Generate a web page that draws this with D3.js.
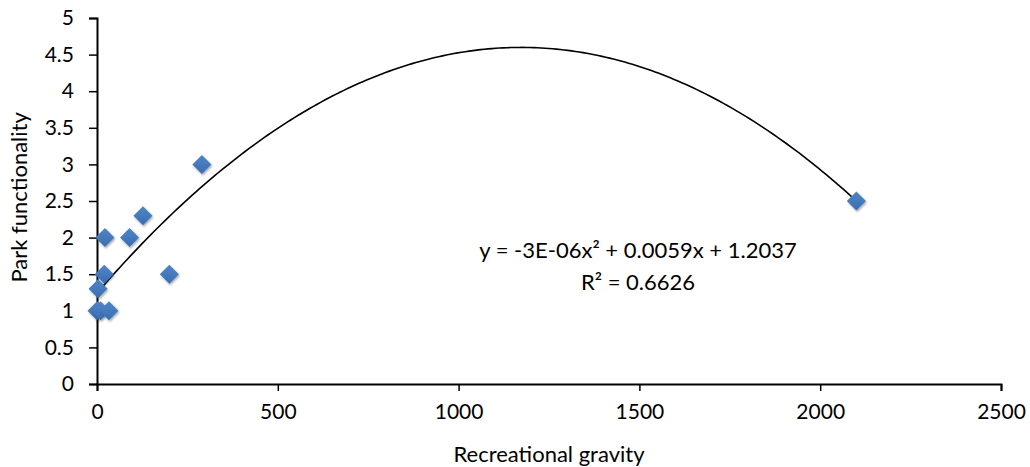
<!DOCTYPE html>
<html>
<head>
<meta charset="utf-8">
<script src="https://cdn.jsdelivr.net/npm/d3@7"></script>
<style>
  body { margin: 0; background: #fff; }
  svg text { font-family: Lato, "Open Sans", sans-serif; fill: #000; }
</style>
</head>
<body>
<svg id="chart" width="1030" height="467"></svg>
<script>
// observed values
const gravity = [0, 10, 33, 3, 20, 22, 90, 127, 200, 290, 2100];
const functionality = [1, 1, 1, 1.3, 1.5, 2, 2, 2.3, 1.5, 3, 2.5];
const xTicks = [0, 500, 1000, 1500, 2000, 2500];
const yTicks = [0, 0.5, 1, 1.5, 2, 2.5, 3, 3.5, 4, 4.5, 5];
const eqText = "y = -3E-06x² + 0.0059x + 1.2037";
const r2Text = "R² = 0.6626";

const svg = d3.select("#chart");
const x = d3.scaleLinear().domain([0, 2500]).range([97, 1001]);
const y = d3.scaleLinear().domain([0, 5]).range([384, 18]);

// quadratic least squares for the trendline
function fitQuad(xs, ys) {
  let s = [0, 0, 0, 0, 0], t = [0, 0, 0];
  xs.forEach((xv, i) => {
    for (let k = 0; k < 5; k++) s[k] += Math.pow(xv, k);
    for (let k = 0; k < 3; k++) t[k] += Math.pow(xv, k) * ys[i];
  });
  const M = [
    [s[0], s[1], s[2], t[0]],
    [s[1], s[2], s[3], t[1]],
    [s[2], s[3], s[4], t[2]]
  ];
  for (let i = 0; i < 3; i++) {
    for (let j = i + 1; j < 3; j++) {
      const f = M[j][i] / M[i][i];
      for (let k = i; k < 4; k++) M[j][k] -= f * M[i][k];
    }
  }
  const c = [0, 0, 0];
  for (let i = 2; i >= 0; i--) {
    let v = M[i][3];
    for (let k = i + 1; k < 3; k++) v -= M[i][k] * c[k];
    c[i] = v / M[i][i];
  }
  return c; // c0 + c1 x + c2 x^2
}
const coef = fitQuad(gravity, functionality);

// axes
const xAxis = svg.append("g")
  .attr("transform", `translate(0,${y(0)})`)
  .call(d3.axisBottom(x).tickValues(xTicks).tickFormat(d3.format("d")).tickSize(7).tickPadding(13));
const yAxis = svg.append("g")
  .attr("transform", `translate(${x(0)},0)`)
  .call(d3.axisLeft(y).tickValues(yTicks).tickFormat(d => d).tickSize(8).tickPadding(15));

[xAxis, yAxis].forEach(a => {
  a.select(".domain").attr("stroke", "#000").attr("stroke-width", 2);
  a.selectAll(".tick line").attr("stroke", "#000").attr("stroke-width", 1.5);
  a.selectAll(".tick text").style("font-size", "21px").attr("fill", "#000");
});

// trendline
const [minX, maxX] = d3.extent(gravity);
const curvePts = d3.range(0, 201).map(i => {
  const xv = minX + (maxX - minX) * i / 200;
  return [xv, coef[0] + coef[1] * xv + coef[2] * xv * xv];
});
svg.append("path")
  .datum(curvePts)
  .attr("fill", "none")
  .attr("stroke", "#000")
  .attr("stroke-width", 1.6)
  .attr("d", d3.line().x(d => x(d[0])).y(d => y(d[1])));

// diamond markers
const defs = svg.append("defs");
const grad = defs.append("linearGradient").attr("id", "dg")
  .attr("x1", "0").attr("y1", "0").attr("x2", "0").attr("y2", "1");
grad.append("stop").attr("offset", "0%").attr("stop-color", "#4f86c9");
grad.append("stop").attr("offset", "100%").attr("stop-color", "#3a6db0");
const shadow = defs.append("filter").attr("id", "sh").attr("x", "-50%").attr("y", "-50%").attr("width", "200%").attr("height", "200%");
shadow.append("feDropShadow").attr("dx", 1).attr("dy", 1.5).attr("stdDeviation", 1.2).attr("flood-color", "#000").attr("flood-opacity", 0.35);

const pts = gravity.map((g, i) => ({ g, f: functionality[i] }));
svg.append("g").selectAll("path")
  .data(pts)
  .enter()
  .append("path")
  .attr("transform", d => `translate(${x(d.g)},${y(d.f)})`)
  .attr("d", d3.symbol().type(d3.symbolDiamond2).size(230))
  .attr("fill", "url(#dg)")
  .attr("filter", "url(#sh)");

// equation
svg.append("text")
  .attr("x", 638).attr("y", 258)
  .attr("text-anchor", "middle")
  .style("font-size", "22px")
  .text(eqText);
svg.append("text")
  .attr("x", 638).attr("y", 290)
  .attr("text-anchor", "middle")
  .style("font-size", "22px")
  .text(r2Text);

// axis titles
svg.append("text")
  .attr("x", x(1250)).attr("y", 462)
  .attr("text-anchor", "middle")
  .style("font-size", "22px")
  .text("Recreational gravity");
svg.append("text")
  .attr("transform", `translate(27,${y(2.55)}) rotate(-90)`)
  .attr("text-anchor", "middle")
  .style("font-size", "22px")
  .text("Park functionality");
</script>
</body>
</html>
